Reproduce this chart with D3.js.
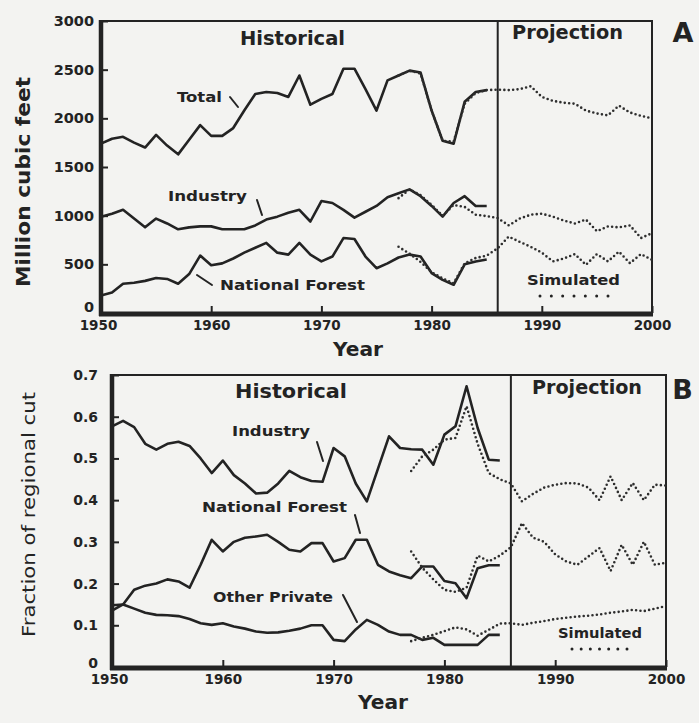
<!DOCTYPE html>
<html>
<head>
<meta charset="utf-8">
<script src="https://cdn.jsdelivr.net/npm/d3@7"></script>
<style>
  body { margin: 0; background: #f3f3f1; }
  svg { display: block; }
</style>
</head>
<body>
<svg id="chart" width="699" height="723"></svg>
<script>
// --- data ---
const histYears = d3.range(1950, 1986);   // 1950..1985
const simYears  = d3.range(1977, 2001);   // 1977..2000
const xTicks  = [1950, 1960, 1970, 1980, 1990, 2000];
const yTicksA = [0, 500, 1000, 1500, 2000, 2500, 3000];
const yTicksB = [0, 0.1, 0.2, 0.3, 0.4, 0.5, 0.6, 0.7];

// panel A, million cubic feet
const totalHist = [1740, 1790, 1810, 1750, 1700, 1830, 1720, 1630, 1780, 1930,
                   1820, 1820, 1900, 2080, 2250, 2270, 2260, 2220, 2440, 2140,
                   2200, 2250, 2510, 2510, 2300, 2080, 2390, 2440, 2490, 2470,
                   2080, 1770, 1740, 2170, 2270, 2290];
const industryHist = [990, 1020, 1060, 970, 880, 970, 920, 860, 880, 890,
                      890, 860, 860, 860, 900, 960, 990, 1030, 1060, 940,
                      1150, 1130, 1060, 980, 1040, 1100, 1190, 1230, 1270, 1200,
                      1100, 990, 1130, 1200, 1100, 1100];
const nfHist = [180, 210, 300, 310, 330, 360, 350, 300, 400, 590,
                490, 510, 560, 620, 670, 720, 620, 600, 720, 600,
                530, 580, 770, 760, 580, 460, 510, 570, 600, 580,
                410, 340, 290, 500, 530, 550];
const totalSim = [2440, 2490, 2460, 2080, 1770, 1760, 2150, 2260, 2290, 2295,
                  2290, 2300, 2330, 2220, 2180, 2160, 2150, 2080, 2050, 2030,
                  2130, 2060, 2025, 2000];
const industrySim = [1180, 1270, 1210, 1110, 1000, 1110, 1090, 1010, 995, 975,
                     900, 970, 1010, 1020, 990, 950, 920, 960, 840, 890,
                     880, 900, 770, 820];
const nfSim = [680, 610, 525, 420, 355, 305, 510, 565, 590, 665,
               785, 730, 680, 620, 530, 560, 605, 495, 605, 530,
               630, 512, 605, 546];

// panel B, fraction of regional cut
const indFracHist = [0.577, 0.59, 0.575, 0.535, 0.521, 0.535, 0.54, 0.53, 0.50, 0.465,
                     0.495, 0.46, 0.44, 0.416, 0.418, 0.44, 0.47, 0.455, 0.446, 0.444,
                     0.525, 0.505, 0.44, 0.397, 0.475, 0.553, 0.525, 0.522, 0.521, 0.485,
                     0.557, 0.577, 0.673, 0.573, 0.497, 0.495];
const nfFracHist = [0.135, 0.15, 0.185, 0.195, 0.20, 0.21, 0.205, 0.19, 0.245, 0.305,
                    0.277, 0.30, 0.31, 0.313, 0.317, 0.30, 0.281, 0.277, 0.297, 0.297,
                    0.253, 0.261, 0.305, 0.305, 0.245, 0.229, 0.22, 0.213, 0.241, 0.241,
                    0.206, 0.201, 0.165, 0.237, 0.244, 0.244];
const opFracHist = [0.148, 0.15, 0.14, 0.13, 0.125, 0.124, 0.122, 0.115, 0.105, 0.101,
                    0.105, 0.097, 0.092, 0.085, 0.082, 0.083, 0.087, 0.092, 0.10, 0.10,
                    0.065, 0.062, 0.09, 0.113, 0.101, 0.085, 0.077, 0.077, 0.065, 0.07,
                    0.053, 0.053, 0.053, 0.053, 0.077, 0.077];
const indFracSim = [0.47, 0.505, 0.521, 0.545, 0.549, 0.625, 0.535, 0.465, 0.45, 0.44,
                    0.397, 0.415, 0.43, 0.437, 0.441, 0.44, 0.43, 0.40, 0.457, 0.40,
                    0.441, 0.40, 0.437, 0.435];
const nfFracSim = [0.277, 0.238, 0.21, 0.185, 0.18, 0.19, 0.267, 0.253, 0.267, 0.287,
                   0.345, 0.31, 0.30, 0.27, 0.253, 0.245, 0.265, 0.285, 0.23, 0.293,
                   0.245, 0.30, 0.245, 0.25];
const opFracSim = [0.062, 0.07, 0.077, 0.086, 0.095, 0.09, 0.075, 0.089, 0.104, 0.105,
                   0.101, 0.106, 0.11, 0.115, 0.118, 0.121, 0.123, 0.126, 0.13, 0.133,
                   0.137, 0.134, 0.14, 0.146];

const ink = "#232323";
const font = "'DejaVu Sans', sans-serif";
const svg = d3.select("#chart");

const xA = d3.scaleLinear().domain([1950, 2000]).range([101, 652]);
const yA = d3.scaleLinear().domain([0, 3000]).range([313, 21]);
const xB = d3.scaleLinear().domain([1950, 2000]).range([112, 666]);
const yB = d3.scaleLinear().domain([0, 0.7]).range([667, 375]);

function label(txt, cx, cy, size, opts = {}) {
    const t = svg.append("text")
        .attr("x", cx).attr("y", cy).attr("dy", "0.36em")
        .attr("text-anchor", "middle")
        .attr("font-family", font)
        .attr("font-weight", opts.weight || "bold")
        .attr("font-size", size)
        .attr("fill", ink)
        .text(txt);
    if (opts.width) t.attr("textLength", opts.width).attr("lengthAdjust", "spacingAndGlyphs");
    if (opts.rotate) t.attr("x", 0).attr("y", 0).attr("transform", `translate(${cx},${cy}) rotate(-90)`);
    return t;
}

function leader(x1, y1, x2, y2) {
    svg.append("line").attr("x1", x1).attr("y1", y1).attr("x2", x2).attr("y2", y2)
        .attr("stroke", ink).attr("stroke-width", 2).attr("stroke-linecap", "round");
}

function drawPanel(p) {
    const x = p.x, y = p.y;
    const x0 = x(1950), x1 = x(2000), y0 = y(0), yT = y(p.yMax);

    // thin frame + historical/projection divider
    svg.append("path").attr("d", `M${x0},${yT}H${x1}V${y0}`)
        .attr("fill", "none").attr("stroke", ink).attr("stroke-width", 2);
    svg.append("line").attr("x1", x(1986)).attr("x2", x(1986)).attr("y1", yT).attr("y2", y0)
        .attr("stroke", ink).attr("stroke-width", 2);

    const ay = svg.append("g").attr("transform", `translate(${x0},0)`)
        .call(d3.axisLeft(y).tickValues(p.yTicks).tickFormat(p.yFmt).tickSize(-7).tickPadding(p.yPad));
    const ax = svg.append("g").attr("transform", `translate(0,${y0})`)
        .call(d3.axisBottom(x).tickValues(xTicks).tickFormat(d3.format("d")).tickSize(-7).tickPadding(7));
    [ay, ax].forEach(a => {
        a.select(".domain").remove();
        a.selectAll(".tick line").attr("stroke", ink).attr("stroke-width", 2);
        a.selectAll("text").attr("font-family", font).attr("font-weight", "bold")
            .attr("fill", ink).attr("font-size", 13.5);
    });
    ay.selectAll("text").attr("font-size", p.ySize);
    // the zero label sits a little above the heavy axis in the original
    ay.selectAll(".tick").filter(d => d === 0).select("text").attr("y", -p.zeroLift);
    ax.selectAll(".tick").filter(d => d === 1950).select("text").attr("x", -3);

    // heavy left and bottom axes
    svg.append("line").attr("x1", x0).attr("x2", x0).attr("y1", yT - 1).attr("y2", y0 + 3)
        .attr("stroke", ink).attr("stroke-width", 4.5);
    svg.append("line").attr("x1", x0 - 2).attr("x2", x1 + 1).attr("y1", y0 + 1).attr("y2", y0 + 1)
        .attr("stroke", ink).attr("stroke-width", 5);

    const line = d3.line().x(d => x(d[0])).y(d => y(d[1]));
    p.hist.forEach(vals => {
        svg.append("path").datum(d3.zip(histYears, vals)).attr("d", line)
            .attr("fill", "none").attr("stroke", ink).attr("stroke-width", 2.6)
            .attr("stroke-linejoin", "round");
    });
    p.sim.forEach(vals => {
        svg.append("path").datum(d3.zip(simYears, vals)).attr("d", line)
            .attr("fill", "none").attr("stroke", "#2e2e2e").attr("stroke-width", 2.6)
            .attr("stroke-linecap", "round").attr("stroke-dasharray", "0 4.4");
    });

    // "Simulated" dotted key
    const k = p.key;
    svg.append("line").attr("x1", k[0]).attr("x2", k[1] + 0.5).attr("y1", k[2]).attr("y2", k[2])
        .attr("stroke", ink).attr("stroke-width", 3).attr("stroke-linecap", "round")
        .attr("stroke-dasharray", `0 ${(k[1] - k[0]) / 6}`);
}

drawPanel({
    x: xA, y: yA, yMax: 3000, yTicks: yTicksA, yFmt: d3.format("d"), yPad: 7, ySize: 14.5, zeroLift: 6,
    hist: [totalHist, industryHist, nfHist],
    sim: [totalSim, industrySim, nfSim],
    key: [540, 608, 296]
});
drawPanel({
    x: xB, y: yB, yMax: 0.7, yTicks: yTicksB, yFmt: d => d === 0 ? "0" : d3.format(".1f")(d), yPad: 14, ySize: 14, zeroLift: 4,
    hist: [indFracHist, nfFracHist, opFracHist],
    sim: [indFracSim, nfFracSim, opFracSim],
    key: [572, 627, 649]
});

// panel A text
label("Historical", 292.5, 38, 19, { width: 105 });
label("Projection", 567.5, 32, 19, { width: 111 });
label("A", 683, 32.5, 27);
label("Total", 199.5, 97, 14, { width: 45 });
label("Industry", 207.5, 196, 14, { width: 79 });
label("National Forest", 292.5, 285, 14, { width: 145 });
label("Simulated", 573.5, 280, 14, { width: 93 });
label("Year", 358, 349, 20, { width: 50 });
label("Million cubic feet", 23, 182, 19, { width: 210, rotate: true });
leader(230, 97, 238, 107);
leader(257, 200, 262, 215);
leader(197, 275, 212, 285);

// panel B text
label("Historical", 291, 391.5, 19, { width: 112 });
label("Projection", 587, 387, 19, { width: 110 });
label("B", 682.5, 389, 27);
label("Industry", 271, 431, 14, { width: 78 });
label("National Forest", 274.5, 506.5, 14, { width: 145 });
label("Other Private", 273, 596.5, 14, { width: 120 });
label("Simulated", 600, 633, 14, { width: 84 });
label("Year", 383, 702, 20, { width: 50 });
label("Fraction of regional cut", 29, 514.5, 18, { width: 245, rotate: true, weight: "normal" });
leader(317, 442, 323, 461);
leader(355, 515, 360, 533);
leader(343, 595, 357, 622);
</script>
</body>
</html>
